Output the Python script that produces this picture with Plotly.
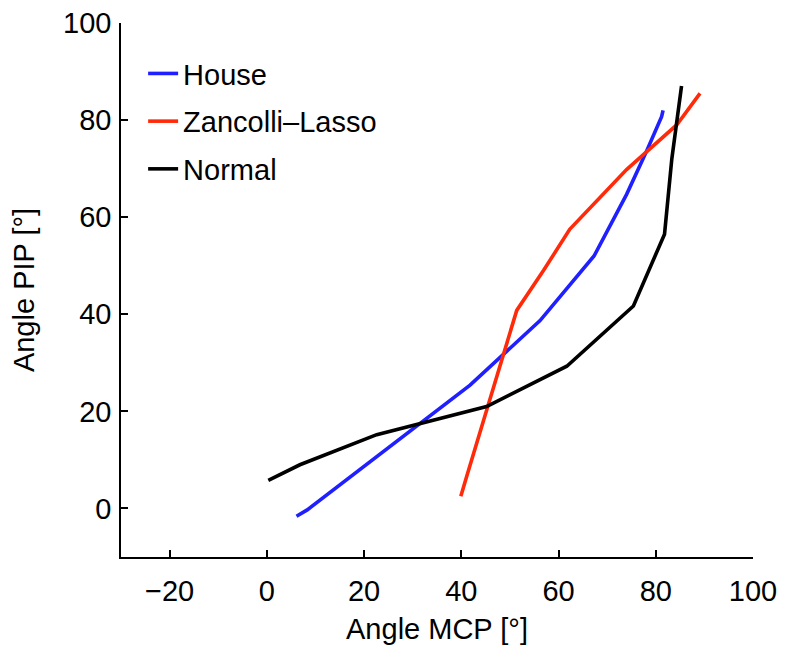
import plotly.graph_objects as go

house_x = [6.1, 8.3, 41.8, 56.2, 67.3, 74.0, 78.1, 81.2, 81.5]
house_y = [-1.6, -0.3, 25.4, 38.7, 52.0, 64.7, 73.6, 80.7, 82.0]

zl_x = [39.9, 41.1, 51.4, 56.9, 62.3, 68.5, 74.0, 84.3, 89.1]
zl_y = [2.5, 6.6, 40.8, 49.0, 57.5, 64.1, 69.8, 79.0, 85.5]

normal_x = [0.3, 6.8, 22.6, 45.2, 61.7, 75.4, 81.8, 83.3, 85.3]
normal_y = [5.8, 9.0, 15.2, 21.0, 29.3, 41.7, 56.5, 72.0, 87.0]

x_ticks = [-20, 0, 20, 40, 60, 80, 100]
y_ticks = [0, 20, 40, 60, 80, 100]

font = "Liberation Sans, Arial, Helvetica, sans-serif"
FS = 29

fig = go.Figure()
fig.add_trace(go.Scatter(x=house_x, y=house_y, mode="lines", name="House", legendgroup="a",
                         line=dict(color="#1f1fff", width=3.6)))
fig.add_trace(go.Scatter(x=zl_x, y=zl_y, mode="lines", name="Zancolli\u2013Lasso", legendgroup="b",
                         line=dict(color="#ff2a0a", width=3.6)))
fig.add_trace(go.Scatter(x=normal_x, y=normal_y, mode="lines", name="Normal", legendgroup="c",
                         line=dict(color="#000000", width=3.6)))

axis_common = dict(showgrid=False, zeroline=False, showline=True, linecolor="black",
                   linewidth=1.5, ticks="inside", ticklen=7, tickwidth=1.5, tickcolor="black",
                   tickfont=dict(size=FS, color="black", family=font), mirror=False,
                   automargin=False, ticklabeloverflow="allow")

fig.update_xaxes(range=[-30, 100], tickvals=x_ticks,
                 ticktext=["\u221220" if v == -20 else str(v) for v in x_ticks],
                 ticklabelstandoff=7,
                 title=dict(text="Angle MCP [\u00b0]", font=dict(size=FS, color="black", family=font), standoff=13),
                 **axis_common)
fig.update_yaxes(range=[-10, 100], tickvals=y_ticks,
                 ticklabelstandoff=2,
                 title=dict(text="Angle PIP [\u00b0]", font=dict(size=FS, color="black", family=font), standoff=32),
                 **axis_common)

fig.update_layout(
    width=788, height=650,
    margin=dict(l=113, r=43, t=15, b=101),
    plot_bgcolor="white", paper_bgcolor="white",
    font=dict(family=font, color="black"),
    legend=dict(x=0.035, y=0.953, xanchor="left", yanchor="top",
                font=dict(size=FS, color="black", family=font),
                bgcolor="rgba(0,0,0,0)", itemwidth=30, tracegroupgap=7),
)

fig.write_html("out.html")
